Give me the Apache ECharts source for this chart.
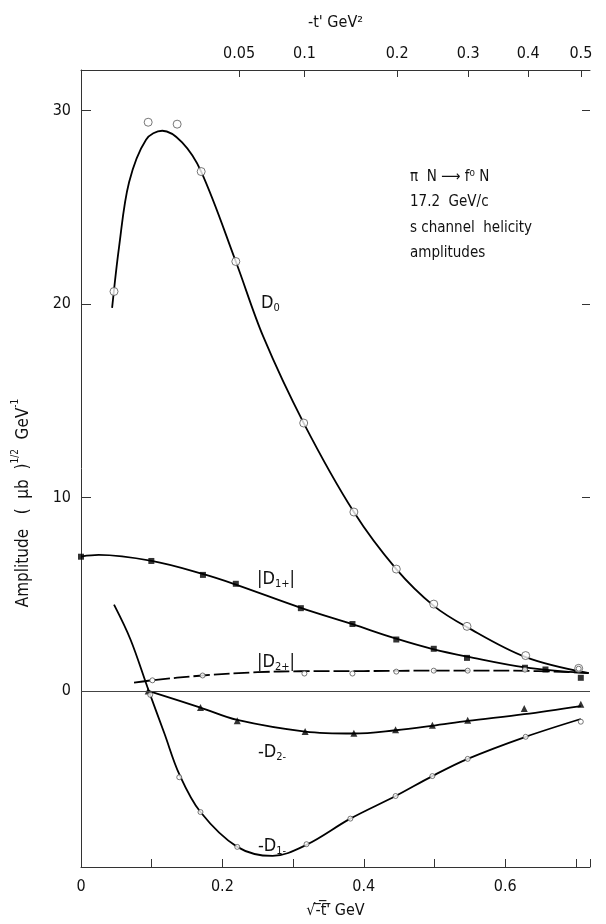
<!DOCTYPE html>
<html>
<head>
<meta charset="utf-8">
<script src="https://cdn.jsdelivr.net/npm/echarts@6/dist/echarts.min.js"></script>
<style>
  html, body { margin: 0; background: #fff; }
  #chart { width: 606px; height: 924px; }
</style>
</head>
<body>
<div id="chart"></div>
<script>
// fitted curves: [sqrt(-t'), amplitude]
var d0Curve = [[0.044,19.8],[0.054,23.0],[0.068,26.3],[0.092,28.5],[0.115,28.96],[0.143,28.36],[0.170,26.85],[0.219,22.2],[0.258,18.3],[0.315,13.85],[0.386,9.25],[0.446,6.3],[0.499,4.4],[0.546,3.3],[0.629,1.75],[0.718,0.92]];
var d1pCurve = [[0,6.95],[0.025,7.03],[0.1,6.72],[0.172,6.05],[0.219,5.5],[0.311,4.3],[0.384,3.45],[0.446,2.7],[0.499,2.15],[0.546,1.78],[0.628,1.22],[0.718,0.92]];
var d2pCurve = [[0.075,0.43],[0.1,0.55],[0.172,0.8],[0.25,0.97],[0.31,1.02],[0.4,1.03],[0.5,1.05],[0.6,1.05],[0.718,0.94]];
var d2mCurve = [[0.094,0.02],[0.169,-0.86],[0.221,-1.5],[0.317,-2.1],[0.386,-2.2],[0.445,-2.03],[0.497,-1.8],[0.547,-1.55],[0.627,-1.2],[0.707,-0.78]];
var d1mCurve = [[0.0467,4.46],[0.070,2.66],[0.095,0.09],[0.118,-2.2],[0.139,-4.3],[0.169,-6.26],[0.221,-8.06],[0.271,-8.53],[0.319,-7.95],[0.381,-6.6],[0.445,-5.43],[0.497,-4.4],[0.547,-3.51],[0.629,-2.37],[0.707,-1.45]];

// measured points
var d0Pts = [[0.0467,20.65],[0.095,29.4],[0.136,29.3],[0.170,26.85],[0.219,22.2],[0.315,13.85],[0.386,9.25],[0.446,6.3],[0.499,4.49],[0.546,3.34],[0.629,1.83],[0.704,1.17]];
var d1pPts = [[0,6.94],[0.0995,6.72],[0.1725,6.0],[0.219,5.54],[0.311,4.28],[0.384,3.46],[0.446,2.66],[0.499,2.18],[0.546,1.71],[0.628,1.20],[0.657,1.11],[0.707,0.68]];
var d2pPts = [[0.101,0.55],[0.172,0.8],[0.316,0.9],[0.384,0.9],[0.446,1.0],[0.499,1.05],[0.547,1.05],[0.628,1.1],[0.704,1.15]];
var d2mPts = [[0.095,0.0],[0.169,-0.86],[0.221,-1.54],[0.317,-2.1],[0.386,-2.19],[0.445,-2.0],[0.497,-1.77],[0.547,-1.51],[0.627,-0.91],[0.707,-0.69]];
var d1mPts = [[0.098,-0.2],[0.139,-4.46],[0.169,-6.26],[0.221,-8.06],[0.319,-7.92],[0.381,-6.6],[0.445,-5.43],[0.497,-4.4],[0.547,-3.51],[0.629,-2.37],[0.707,-1.59]];

// axis ticks
var yTicks = [0, 10, 20, 30];
var bottomLabels = [0, 0.2, 0.4, 0.6];
var topTickT = [0.05, 0.1, 0.2, 0.3, 0.4, 0.5];
var topTickLabels = ['0.05', '0.1', '0.2', '0.3', '0.4', '0.5'];

var FONT = "'Liberation Sans Narrow', 'DejaVu Sans Condensed', 'Liberation Sans', sans-serif";
var INK = '#111';
var AXIS = '#333';

var chart = echarts.init(document.getElementById('chart'));

function curve(data, dashed) {
  return {
    type: 'line', data: data, smooth: 0.35, showSymbol: false, silent: true,
    lineStyle: { color: '#000', width: 1.8, type: dashed ? [16, 4] : 'solid' },
    z: 2
  };
}
function points(data, symbol, size, filled) {
  return {
    type: 'scatter', data: data, symbol: symbol, symbolSize: size, silent: true,
    itemStyle: filled ? { color: '#000' } : { color: '#fff', borderColor: '#555', borderWidth: 1 },
    z: 3
  };
}
function sub(text) {
  return {
    type: 'text', style: {
      text: text, verticalAlign: 'middle',
      rich: {
        d: { fontSize: 18, fontFamily: FONT, fill: INK, verticalAlign: 'top', lineHeight: 20 },
        s: { fontSize: 11, fontFamily: FONT, fill: INK, verticalAlign: 'bottom', lineHeight: 20 }
      }
    }
  };
}
function at(el, x, y) { el.x = x; el.y = y; return el; }

var zeroLine = curve([], false);
zeroLine.markLine = {
  silent: true, symbol: 'none', label: { show: false },
  lineStyle: { color: '#444', width: 1, type: 'solid' },
  data: [{ yAxis: 0 }]
};

var option = {
  animation: false,
  backgroundColor: '#fff',
  textStyle: { fontFamily: FONT, color: INK },
  grid: { left: 81, right: 16, top: 70, bottom: 52 },
  xAxis: [{
    type: 'value', min: 0, max: 0.72, interval: 0.1,
    name: '√-\u0305t\u0305\'\u0305 GeV', nameLocation: 'middle', nameGap: 36,
    nameTextStyle: { fontSize: 16, color: INK, fontFamily: FONT },
    axisLine: { show: true, onZero: false, lineStyle: { color: AXIS, width: 1 } },
    axisTick: { show: true, inside: true, length: 8, lineStyle: { color: AXIS } },
    axisLabel: {
      customValues: bottomLabels, fontSize: 16, color: INK, margin: 12, fontFamily: FONT,
      formatter: function (v) { return v === 0 ? '0' : v.toFixed(1); }
    },
    splitLine: { show: false }
  }, {
    type: 'value', position: 'top', min: 0, max: 0.72,
    name: '-t\' GeV²', nameLocation: 'middle', nameGap: 39,
    nameTextStyle: { fontSize: 16, color: INK, fontFamily: FONT },
    axisLine: { show: true, onZero: false, lineStyle: { color: AXIS, width: 1 } },
    axisTick: { show: true, inside: true, length: 7, customValues: topTickT.map(Math.sqrt), lineStyle: { color: AXIS } },
    axisLabel: {
      customValues: topTickT.map(Math.sqrt), fontSize: 16, color: INK, margin: 8, fontFamily: FONT,
      formatter: function (v) {
        for (var i = 0; i < topTickT.length; i++) {
          if (Math.abs(Math.sqrt(topTickT[i]) - v) < 1e-6) return topTickLabels[i];
        }
        return '';
      }
    },
    splitLine: { show: false }
  }],
  yAxis: [{
    type: 'value', min: -9.1, max: 32.1,
    axisLine: { show: true, onZero: false, lineStyle: { color: AXIS, width: 1 } },
    axisTick: { show: true, inside: true, length: 10, customValues: yTicks, lineStyle: { color: AXIS } },
    axisLabel: { customValues: yTicks, fontSize: 16, color: INK, margin: 10, fontFamily: FONT },
    splitLine: { show: false }
  }, {
    type: 'value', position: 'right', min: -9.1, max: 32.1,
    axisLine: { show: false, onZero: false },
    axisTick: { show: true, inside: true, length: 8, customValues: [10, 20, 30], lineStyle: { color: AXIS } },
    axisLabel: { show: false },
    splitLine: { show: false }
  }],
  graphic: [
    {
      type: 'text', x: 21, y: 503, rotation: Math.PI / 2,
      style: {
        text: '{a|Amplitude   (  μb  )}{s|1/2}{a|  GeV}{s|-1}',
        align: 'center', verticalAlign: 'middle',
        rich: {
          a: { fontSize: 17, fontFamily: FONT, fill: INK, lineHeight: 22, verticalAlign: 'bottom' },
          s: { fontSize: 10, fontFamily: FONT, fill: INK, lineHeight: 22, verticalAlign: 'top' }
        }
      }
    },
    {
      type: 'text', x: 410, y: 164,
      style: {
        text: 'π  N ⟶ f⁰ N\n17.2  GeV/c\ns channel  helicity\namplitudes',
        fontSize: 15, lineHeight: 25.5, fontFamily: FONT, fill: INK
      }
    },
    at(sub('{d|D}{s|0}'), 261, 304),
    at(sub('{d||D}{s|1+}{d||}'), 257, 580),
    at(sub('{d||D}{s|2+}{d||}'), 257, 663),
    at(sub('{d|-D}{s|2-}'), 258, 753),
    at(sub('{d|-D}{s|1-}'), 258, 847)
  ],
  series: [
    zeroLine,
    curve(d0Curve), curve(d1pCurve), curve(d2pCurve, true), curve(d2mCurve), curve(d1mCurve),
    points(d0Pts, 'circle', 8, false),
    points(d1pPts, 'rect', 6, true),
    points(d2pPts, 'circle', 5, false),
    points(d2mPts, 'triangle', 7, true),
    points(d1mPts, 'circle', 5, false)
  ]
};

chart.setOption(option);
</script>
</body>
</html>
